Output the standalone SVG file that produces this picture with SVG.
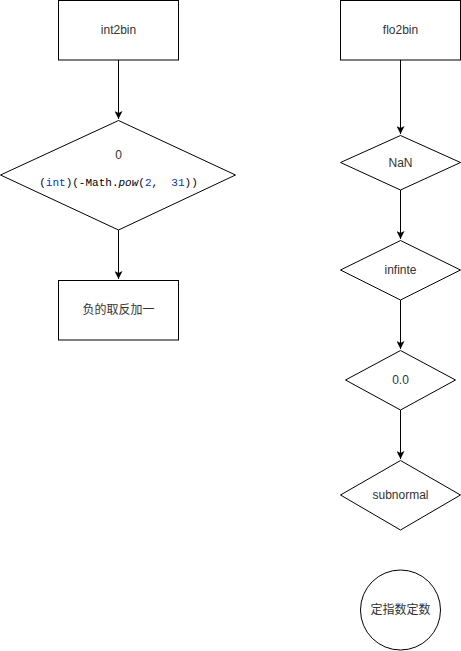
<svg xmlns="http://www.w3.org/2000/svg" width="461" height="651" viewBox="0 0 461 651">
<defs>
<style>
.n{fill:#fff;stroke:#000;stroke-width:1}
.t{font-family:"Liberation Sans",Arial,"Noto Sans CJK SC",sans-serif;font-size:12px;fill:#333;text-anchor:middle;dominant-baseline:central}
.c{font-family:"Liberation Mono","Courier New",monospace;font-size:11px;fill:#000;text-anchor:middle;dominant-baseline:central}
.b{fill:#0033cc}
.e{fill:none;stroke:#000;stroke-width:1}
</style>
<marker id="a" viewBox="0 0 10 10" refX="10" refY="5" markerWidth="8" markerHeight="8" markerUnits="userSpaceOnUse" orient="auto">
<path d="M0,0 L10,5 L0,10 L2.5,5 Z" fill="#000"/>
</marker>
</defs>
<rect width="461" height="651" fill="#fff"/>
<g id="connectors">
<path class="e" d="M118.5,60 V119" marker-end="url(#a)"/>
<path class="e" d="M118.5,230 V279" marker-end="url(#a)"/>
<path class="e" d="M400.5,60 V134" marker-end="url(#a)"/>
<path class="e" d="M400.5,190 V239" marker-end="url(#a)"/>
<path class="e" d="M400.5,300 V349" marker-end="url(#a)"/>
<path class="e" d="M400.5,410 V459" marker-end="url(#a)"/>
</g>
<g id="int2bin">
<rect class="n" x="58.5" y="0.5" width="120" height="59.5"/>
<text class="t" x="118.5" y="30">int2bin</text>
</g>
<g id="cond0">
<path class="n" d="M118.5,120.5 L235.5,175 L118.5,230 L0.5,175 Z"/>
<text class="t" x="118.5" y="155">0</text>
<text class="c" x="118.5" y="183" xml:space="preserve">(<tspan class="b">int</tspan>)(-Math.<tspan font-style="italic">pow</tspan>(<tspan class="b">2</tspan>,  <tspan class="b">31</tspan>))</text>
</g>
<g id="neg">
<rect class="n" x="58.5" y="280.5" width="120" height="59.5"/>
<text class="t" x="118.5" y="310">负的取反加一</text>
</g>
<g id="flo2bin">
<rect class="n" x="340.5" y="0.5" width="120" height="59.5"/>
<text class="t" x="400.5" y="30">flo2bin</text>
</g>
<g id="nan">
<path class="n" d="M400.5,135.5 L460.5,162.5 L400.5,190 L340.5,162.5 Z"/>
<text class="t" x="400.5" y="162.5">NaN</text>
</g>
<g id="infinte">
<path class="n" d="M400.5,240.5 L460.5,270 L400.5,300 L340.5,270 Z"/>
<text class="t" x="400.5" y="270">infinte</text>
</g>
<g id="zero">
<path class="n" d="M400.5,350.5 L455.5,380 L400.5,410 L345.5,380 Z"/>
<text class="t" x="400.5" y="380">0.0</text>
</g>
<g id="subnormal">
<path class="n" d="M400.5,460.5 L460.5,495 L400.5,530 L340.5,495 Z"/>
<text class="t" x="400.5" y="495">subnormal</text>
</g>
<g id="fixed">
<circle class="n" cx="400.5" cy="610" r="40"/>
<text class="t" x="400.5" y="610">定指数定数</text>
</g>
</svg>
